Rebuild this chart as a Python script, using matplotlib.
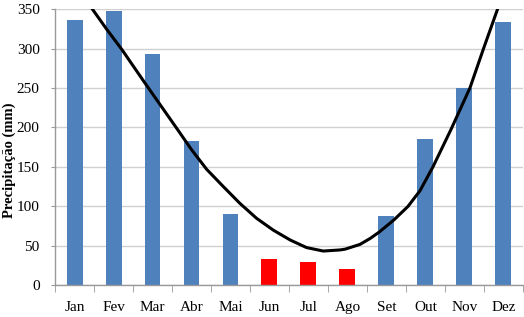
import matplotlib
matplotlib.use("Agg")
import matplotlib.pyplot as plt
import numpy as np

# monthly rainfall (mm)
months = ["Jan", "Fev", "Mar", "Abr", "Mai", "Jun", "Jul", "Ago", "Set", "Out", "Nov", "Dez"]
rain = [336, 348, 293, 183, 90, 33, 30, 21, 88, 185, 250, 333]
dry_months = ["Jun", "Jul", "Ago"]

# hand-drawn trend curve (x = month index, y = mm)
curve_x = [0.30, 0.456, 0.83, 1.21, 1.81, 2.62, 3.0, 3.39, 3.82, 4.24, 4.67,
           5.10, 5.53, 5.95, 6.38, 6.81, 6.94, 7.32, 7.58, 7.81, 8.19, 8.55,
           8.86, 9.19, 9.65, 10.14, 10.49, 10.85, 11.0]
curve_y = [361, 350, 324, 299, 256, 199, 172, 147, 125, 104, 85,
           70, 57.6, 48, 43.6, 45, 46, 52, 59.5, 67.5, 83, 100,
           120, 150, 197, 250, 300, 350, 372]

plt.rcParams["font.family"] = ["Liberation Serif", "DejaVu Serif"]

fig = plt.figure(figsize=(5.24, 3.17), dpi=100)
ax = fig.add_axes([0.105, 0.0994, 0.893, 0.8722])

colors = ["#ff0000" if m in dry_months else "#4f81bd" for m in months]
x = np.arange(len(months))
ax.bar(x, rain, width=0.41, color=colors, zorder=2)

ax.plot(curve_x, curve_y, color="black", linewidth=2.2, zorder=3,
        solid_joinstyle="round")

ax.set_xlim(-0.5, len(months) - 0.5)
ax.set_ylim(0, 350)
ax.set_yticks(np.arange(0, 351, 50))
ax.set_xticks(x)
ax.set_xticklabels(months)
ax.set_xticks(np.arange(-0.5, len(months)), minor=True)

ax.grid(axis="y", color="#d0d0d0", linewidth=1.0, zorder=0)
ax.set_axisbelow(True)

for side in ["top", "right"]:
    ax.spines[side].set_visible(False)
for side in ["left", "bottom"]:
    ax.spines[side].set_color("#999999")
    ax.spines[side].set_linewidth(1.0)

ax.tick_params(axis="x", which="major", length=0, pad=11, labelsize=11)
ax.tick_params(axis="x", which="minor", length=5, color="#999999")
ax.tick_params(axis="y", length=3, color="#999999", pad=8, labelsize=11)

ax.set_ylabel("Precipitação (mm)", fontsize=10.5, fontweight="bold")
ax.yaxis.set_label_coords(-0.083, 0.454)

fig.savefig("out.png", dpi=100)
